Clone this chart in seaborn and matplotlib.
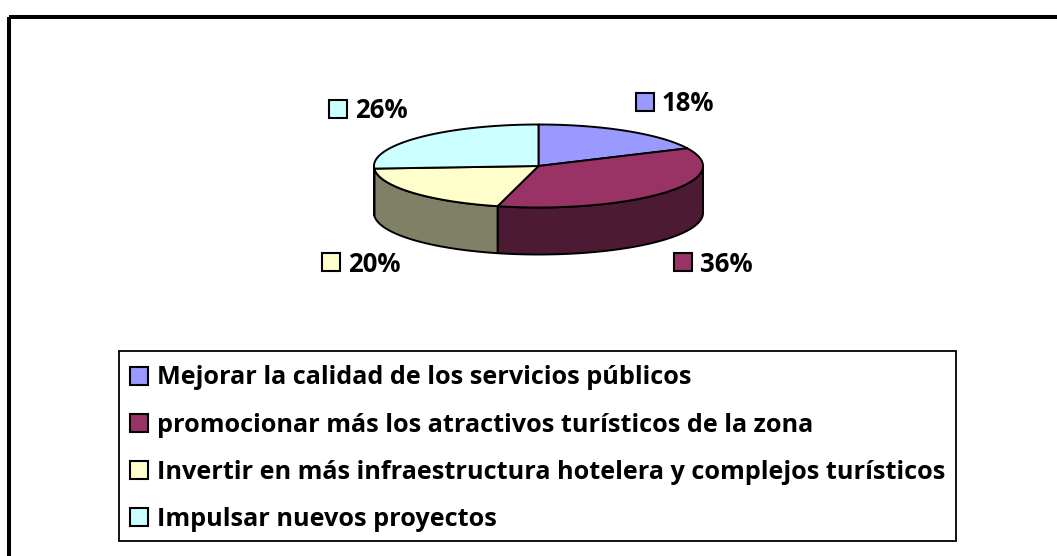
import numpy as np
import matplotlib
matplotlib.use("Agg")
import matplotlib.pyplot as plt
import seaborn as sns
from matplotlib.patches import Polygon, Rectangle

# ---- data ----
categories = [
    "Mejorar la calidad de los servicios públicos",
    "promocionar más los atractivos turísticos de la zona",
    "Invertir en más infraestructura hotelera y complejos turísticos",
    "Impulsar nuevos proyectos",
]
values = [18, 36, 20, 26]
top_colors = ["#9999FF", "#993366", "#FFFFCC", "#CCFFFF"]
side_colors = ["#4D4D80", "#4D1A33", "#808066", "#668080"]

sns.set_style("white")
plt.rcParams["font.family"] = ["Open Sans", "DejaVu Sans"]

W, H = 1057, 556
fig = plt.figure(figsize=(W / 100, H / 100), dpi=100)
ax = fig.add_axes([0, 0, 1, 1])
ax.set_xlim(0, W)
ax.set_ylim(H, 0)
ax.axis("off")

# outer chart border (right/bottom fall outside the image)
ax.add_patch(Rectangle((8.5, 17), 1200, 700, fill=False, ec="black", lw=2.9))

# ---- 3D pie geometry ----
cx, cy, a, b, depth = 538.5, 166, 164.5, 41.5, 47


def pt(t, dz=0.0):
    return cx + a * np.sin(t), cy - b * np.cos(t) + dz


frac = np.array(values, dtype=float) / sum(values)
edges = np.concatenate([[0], np.cumsum(frac)]) * 2 * np.pi
lw = 1.4

# side walls (front half only)
for i in range(len(values)):
    t0, t1 = max(edges[i], np.pi / 2), min(edges[i + 1], 3 * np.pi / 2)
    if t1 <= t0:
        continue
    ts = np.linspace(t0, t1, 150)
    xs, ys = pt(ts)
    poly = np.column_stack([np.r_[xs, xs[::-1]], np.r_[ys, (ys + depth)[::-1]]])
    ax.add_patch(Polygon(poly, closed=True, fc=side_colors[i], ec="black",
                         lw=lw, joinstyle="round"))

# top faces
for i in range(len(values)):
    ts = np.linspace(edges[i], edges[i + 1], 300)
    xs, ys = pt(ts)
    poly = np.column_stack([np.r_[cx, xs], np.r_[cy, ys]])
    ax.add_patch(Polygon(poly, closed=True, fc=top_colors[i], ec="black",
                         lw=lw, joinstyle="round"))

# ---- data labels ----
sq = 18
for i, v in enumerate(values):
    mid = (edges[i] + edges[i + 1]) / 2
    ex, ey = pt(mid, depth if np.cos(mid) < 0 else 0)
    sx = ex + 18 if np.sin(mid) > 0 else ex - 81
    sy = ey - 29 if np.cos(mid) > 0 else ey + 23
    ax.add_patch(Rectangle((sx - sq / 2, sy - sq / 2), sq, sq, fc=top_colors[i],
                           ec="black", lw=1.5))
    ax.text(sx + 17, sy + 9.5, f"{v}%", fontsize=18.5, fontweight="bold",
            ha="left", va="baseline", color="black")

# ---- legend ----
ax.add_patch(Rectangle((118.5, 350.5), 837, 190.5, fill=False, ec="black", lw=1.3))
lx, ly0, step = 139, 375.5, 47.2
for i, lab in enumerate(categories):
    y = ly0 + i * step
    ax.add_patch(Rectangle((lx - sq / 2, y - sq / 2), sq, sq, fc=top_colors[i],
                           ec="black", lw=1.5))
    ax.text(lx + 18, y + 8.9, lab, fontsize=18.2, fontweight="bold",
            ha="left", va="baseline", color="black")

fig.savefig("out.png", dpi=100, facecolor="white")
